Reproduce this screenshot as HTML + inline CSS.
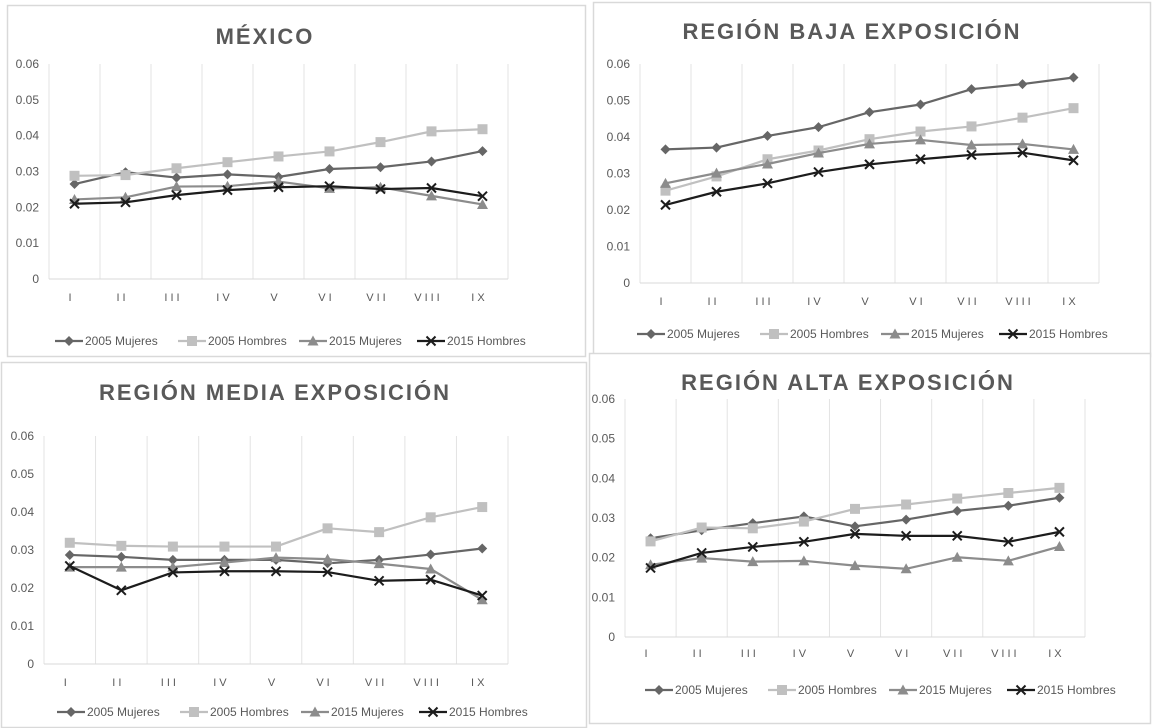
<!DOCTYPE html>
<html><head><meta charset="utf-8">
<style>
html,body{margin:0;padding:0;background:#fff;}
svg{display:block;font-family:"Liberation Sans",sans-serif;}
</style></head>
<body>
<svg id="fig" width="1154" height="728" viewBox="0 0 1154 728" xmlns="http://www.w3.org/2000/svg"></svg>
<script>
const categories = ["I","II","III","IV","V","VI","VII","VIII","IX"];
const yTicks = [0,0.01,0.02,0.03,0.04,0.05,0.06];
const yTickLabels = ["0","0.01","0.02","0.03","0.04","0.05","0.06"];
const seriesNames = ["2005 Mujeres","2005 Hombres","2015 Mujeres","2015 Hombres"];

const mexM05 = [0.0265,0.0298,0.0283,0.0292,0.0285,0.0307,0.0312,0.0328,0.0357];
const mexH05 = [0.0288,0.0290,0.0309,0.0326,0.0342,0.0356,0.0382,0.0412,0.0418];
const mexM15 = [0.0222,0.0228,0.0258,0.0259,0.0272,0.0253,0.0256,0.0232,0.0208];
const mexH15 = [0.0210,0.0214,0.0234,0.0248,0.0256,0.0259,0.0251,0.0254,0.0231];

const bajaM05 = [0.0366,0.0371,0.0403,0.0427,0.0468,0.0489,0.0531,0.0545,0.0563];
const bajaH05 = [0.0253,0.0292,0.0339,0.0363,0.0394,0.0415,0.0429,0.0453,0.0479];
const bajaM15 = [0.0273,0.0301,0.0326,0.0356,0.0381,0.0392,0.0378,0.0381,0.0366];
const bajaH15 = [0.0214,0.0250,0.0273,0.0304,0.0325,0.0339,0.0351,0.0357,0.0336];

const mediaM05 = [0.0287,0.0282,0.0274,0.0274,0.0274,0.0265,0.0274,0.0288,0.0304];
const mediaH05 = [0.0319,0.0311,0.0309,0.0309,0.0309,0.0357,0.0347,0.0386,0.0413];
const mediaM15 = [0.0255,0.0255,0.0255,0.0267,0.0280,0.0276,0.0264,0.0250,0.0169];
const mediaH15 = [0.0258,0.0194,0.0241,0.0244,0.0244,0.0242,0.0219,0.0222,0.0180];

const altaM05 = [0.0249,0.0269,0.0287,0.0304,0.0279,0.0296,0.0318,0.0331,0.0351];
const altaH05 = [0.0241,0.0276,0.0274,0.0291,0.0323,0.0334,0.0349,0.0363,0.0376];
const altaM15 = [0.0182,0.0199,0.0190,0.0192,0.0180,0.0172,0.0201,0.0192,0.0228];
const altaH15 = [0.0174,0.0212,0.0227,0.0240,0.0260,0.0255,0.0255,0.0240,0.0265];

const NS = "http://www.w3.org/2000/svg";
const svg = document.getElementById("fig");
const styles = [
  {color:"#666666", marker:"diamond"},
  {color:"#c0c0c0", marker:"square"},
  {color:"#8c8c8c", marker:"triangle"},
  {color:"#1c1c1c", marker:"x"}
];
function mk(tag, attrs, parent){
  const e = document.createElementNS(NS, tag);
  for (const k in attrs) e.setAttribute(k, attrs[k]);
  (parent||svg).appendChild(e);
  return e;
}
const panels = [
  {key:"mexico", title:"MÉXICO", data:[mexM05,mexH05,mexM15,mexH15],
   box:[7,5,586,357], left:49, right:508, top:64, bottom:279, titleY:44, titleX:285, xlabY:301, legY:345, legX:55},
  {key:"baja", title:"REGIÓN BAJA EXPOSICIÓN", data:[bajaM05,bajaH05,bajaM15,bajaH15],
   box:[593,2,1151,357], left:640, right:1099, top:64, bottom:283, titleY:39, titleX:872, xlabY:305, legY:338, legX:637},
  {key:"media", title:"REGIÓN MEDIA EXPOSICIÓN", data:[mediaM05,mediaH05,mediaM15,mediaH15],
   box:[1,362,587,728], left:44, right:508, top:436, bottom:664, titleY:400, titleX:295, xlabY:686, legY:716, legX:57},
  {key:"alta", title:"REGIÓN ALTA EXPOSICIÓN", data:[altaM05,altaH05,altaM15,altaH15],
   box:[589,353,1151,724], left:625, right:1085, top:399, bottom:637, titleY:390, titleX:868, xlabY:657, legY:694, legX:645}
];
function drawMarker(g, type, x, y, color){
  let m;
  if (type==="diamond") m = mk("polygon",{points:`${x},${y-5} ${x+5},${y} ${x},${y+5} ${x-5},${y}`,fill:color},g);
  else if (type==="square") m = mk("rect",{x:x-5,y:y-5,width:10,height:10,fill:color},g);
  else if (type==="triangle") m = mk("polygon",{points:`${x},${y-5.5} ${x+5.5},${y+4.5} ${x-5.5},${y+4.5}`,fill:color},g);
  else { m = mk("path",{d:`M${x-4.5},${y-4.5}L${x+4.5},${y+4.5}M${x+4.5},${y-4.5}L${x-4.5},${y+4.5}`,stroke:color,"stroke-width":2,fill:"none"},g); }
  
  
}
panels.forEach(p => {
  const g = mk("g",{});
  
  
  const [bx0,by0,bx1,by1] = p.box;
  const bg = mk("rect",{x:bx0+0.5,y:by0+0.5,width:bx1-bx0-1,height:by1-by0-1,fill:"#fff",stroke:"#d9d9d9","stroke-width":1.5},g);
  
  
  const n = categories.length;
  const band = (p.right-p.left)/n;
  const xS = i => p.left + band*(i+0.5);
  const yS = v => p.bottom - (v/0.06)*(p.bottom-p.top);
  for (let i=0;i<=n;i++){
    const x = p.left + band*i;
    const l = mk("line",{x1:x,y1:p.top,x2:x,y2:p.bottom,stroke:"#e3e3e3","stroke-width":1},g);
    
    
  }
  const ax = mk("line",{x1:p.left,y1:p.bottom,x2:p.right,y2:p.bottom,stroke:"#d9d9d9","stroke-width":1},g);
  
  
  yTicks.forEach((t,i) => {
    const tx = mk("text",{x:p.left-10,y:yS(t)+4,"text-anchor":"end","font-size":12,fill:"#595959"},g);
    tx.textContent = yTickLabels[i];
    
    
  });
  categories.forEach((c,i) => {
    const tx = mk("text",{x:xS(i)-3,y:p.xlabY,"text-anchor":"middle","font-size":11,fill:"#595959","letter-spacing":"3"},g);
    tx.textContent = c;
    
    
  });
  const tt = mk("text",{x:p.titleX - 20,y:p.titleY,"text-anchor":"middle","font-size":22,"font-weight":"bold",fill:"#595959","letter-spacing":"2"},g);
  tt.textContent = p.title;
  
  
  p.data.forEach((vals,s) => {
    const st = styles[s];
    const pts = vals.map((v,i)=>`${xS(i)},${yS(v)}`).join(" ");
    const pl = mk("polyline",{points:pts,fill:"none",stroke:st.color,"stroke-width":2.2,"stroke-linejoin":"round"},g);
    
    
    vals.forEach((v,i)=>drawMarker(g, st.marker, xS(i), yS(v), st.color));
  });
  let lx = p.legX;
  const spacing = [123,121,118,120];
  seriesNames.forEach((name,s) => {
    const st = styles[s];
    const lg = mk("g",{},g);
    
    
    mk("line",{x1:lx,y1:p.legY-4,x2:lx+28,y2:p.legY-4,stroke:st.color,"stroke-width":2.2},lg);
    drawMarker(lg, st.marker, lx+14, p.legY-4, st.color);
    const t = mk("text",{x:lx+30,y:p.legY,"font-size":12,fill:"#595959"},lg);
    t.textContent = name;
    lx += spacing[s];
  });
});
</script>
</body></html>
